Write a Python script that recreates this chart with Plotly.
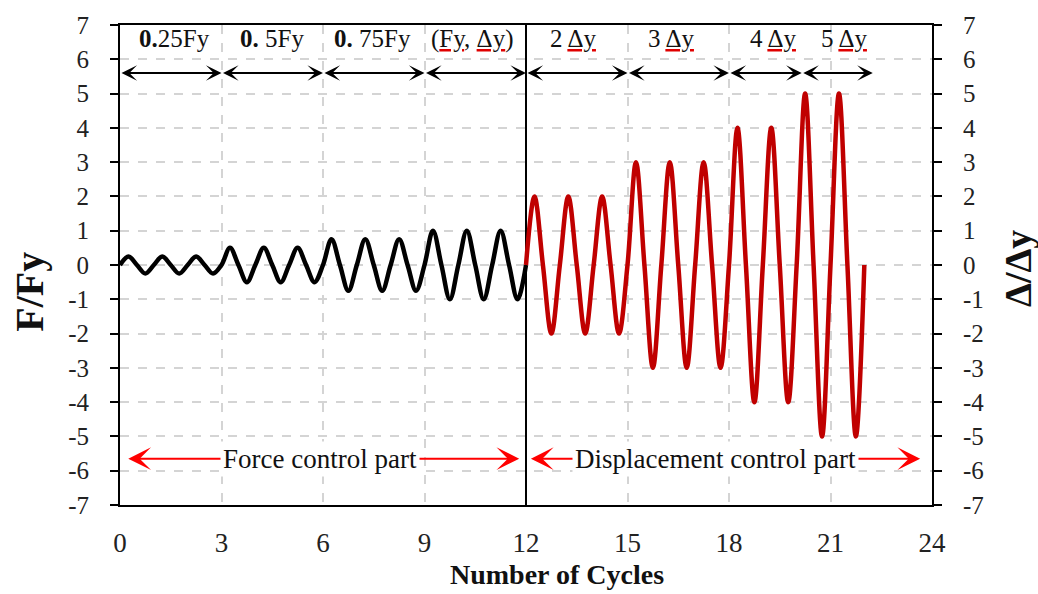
import plotly.graph_objects as go

# Peak ratio of every loading cycle (one cycle per unit on the x axis)
force_cycle_peaks = [0.25, 0.25, 0.25, 0.5, 0.5, 0.5, 0.75, 0.75, 0.75, 1.0, 1.0, 1.0]
disp_cycle_peaks = [2, 2, 2, 3, 3, 3, 4, 4, 5, 5]
force_start = 0
disp_start = 12

x_ticks = [0, 3, 6, 9, 12, 15, 18, 21, 24]
y_ticks = list(range(-7, 8))
y_tick_text = ["-7", "-6", "-5", "-4", "-3", "-2", "-1", "0", "1", "2", "3", "4", "5", "6", "7"]

# Loading stages shown along the top of the chart
stage_bounds = [0, 3, 6, 9, 12, 15, 18, 20.15, 22.25]
stage_label_x = [1.6, 4.5, 7.45, 10.43, 13.4, 16.3, 19.3, 21.4]


def red_underline(s):
    # underline painted in red while the glyphs stay dark
    return ('<span style="text-decoration:underline;fill:#e00000">'
            '<span style="fill:#111111">' + s + '</span></span>')


stage_labels = [
    "<b>0.</b>25Fy",
    "<b>0.</b> 5Fy",
    "<b>0.</b> 75Fy",
    "(" + red_underline("Fy") + ", " + red_underline("Δy") + ")",
    "2 " + red_underline("Δy"),
    "3 " + red_underline("Δy"),
    "4 " + red_underline("Δy"),
    "5 " + red_underline("Δy"),
]
stage_arrow_y = 5.6
stage_label_y = 6.6

# Control-mode spans along the bottom
parts = ["Force control part", "Displacement control part"]
part_spans = [(0.2, 11.8), (12.1, 23.65)]
part_label_x = [5.9, 17.6]
part_y = -5.65


def cycle_points(start, peaks):
    xs, ys = [start], [0.0]
    for i, a in enumerate(peaks):
        x0 = start + i
        xs += [x0 + 0.25, x0 + 0.5, x0 + 0.75, x0 + 1]
        ys += [a, 0.0, -a, 0.0]
    return xs, ys


fx, fy = cycle_points(force_start, force_cycle_peaks)
dx, dy = cycle_points(disp_start, disp_cycle_peaks)

SERIF = "Liberation Serif, DejaVu Serif, serif"
INK = "#111111"

fig = go.Figure()
fig.add_trace(go.Scatter(x=fx, y=fy, mode="lines",
                         line=dict(color="#000000", width=4.5, shape="spline", smoothing=1),
                         showlegend=False, yaxis="y"))
fig.add_trace(go.Scatter(x=dx, y=dy, mode="lines",
                         line=dict(color="#c00000", width=4.5, shape="spline", smoothing=1),
                         showlegend=False, yaxis="y2"))

annotations = []
# black double arrows for each stage
for a, b in zip(stage_bounds[:-1], stage_bounds[1:]):
    annotations.append(dict(x=b, y=stage_arrow_y, ax=a, ay=stage_arrow_y,
                            xref="x", yref="y", axref="x", ayref="y", text="",
                            showarrow=True, arrowside="end+start",
                            arrowhead=3, startarrowhead=3, arrowsize=1.3, startarrowsize=1.3,
                            arrowwidth=2, arrowcolor="#000000", standoff=0, startstandoff=0))
for xl, txt in zip(stage_label_x, stage_labels):
    annotations.append(dict(x=xl, y=stage_label_y, xref="x", yref="y", text=txt,
                            showarrow=False, font=dict(family=SERIF, size=25, color=INK)))
# red double arrows for the control parts
for (a, b) in part_spans:
    annotations.append(dict(x=b, y=part_y, ax=a, ay=part_y,
                            xref="x", yref="y", axref="x", ayref="y", text="",
                            showarrow=True, arrowside="end+start",
                            arrowhead=3, startarrowhead=3, arrowsize=1.9, startarrowsize=1.9,
                            arrowwidth=2, arrowcolor="#ff0000", standoff=0, startstandoff=0))
for xl, txt in zip(part_label_x, parts):
    annotations.append(dict(x=xl, y=part_y, xref="x", yref="y", text=txt,
                            showarrow=False, bgcolor="#ffffff", borderpad=2,
                            font=dict(family=SERIF, size=27, color=INK)))

# axis titles
annotations += [
    dict(text="<b>Number of Cycles</b>", xref="paper", yref="paper", x=0.538, y=-0.144,
         xanchor="center", yanchor="middle", showarrow=False,
         font=dict(family=SERIF, size=28, color=INK)),
    dict(text="<b>F/Fy</b>", xref="paper", yref="paper", x=-0.111, y=0.444,
         xanchor="center", yanchor="middle", textangle=-90, showarrow=False,
         font=dict(family=SERIF, size=40, color=INK)),
    dict(text="<b>Δ/Δy</b>", xref="paper", yref="paper", x=1.106, y=0.492,
         xanchor="center", yanchor="middle", textangle=-90, showarrow=False,
         font=dict(family=SERIF, size=38, color=INK)),
]

fig.update_layout(
    width=1038, height=594,
    margin=dict(l=120, r=106, t=19, b=89),
    paper_bgcolor="#ffffff", plot_bgcolor="#ffffff",
    font=dict(family=SERIF, size=25, color="#222222"),
    xaxis=dict(range=[0, 24], tickvals=x_ticks, ticks="", showline=True, mirror=True,
               linecolor="#000000", linewidth=2,
               showgrid=True, gridcolor="#d4d4d4", griddash="dash", gridwidth=1.5,
               zeroline=False, ticklabelstandoff=13,
               tickfont=dict(family=SERIF, size=27, color="#222222")),
    yaxis=dict(range=[-7, 7], tickvals=y_ticks, ticktext=y_tick_text,
               ticks="outside", ticklen=8, tickwidth=2,
               tickcolor="#000000", showline=True, linecolor="#000000", linewidth=2,
               showgrid=True, gridcolor="#d4d4d4", griddash="dash", gridwidth=1.5,
               zeroline=False, ticklabelstandoff=16,
               tickfont=dict(family=SERIF, size=25, color="#222222")),
    yaxis2=dict(range=[-7, 7], tickvals=y_ticks, ticktext=y_tick_text,
                overlaying="y", side="right",
                ticks="outside", ticklen=8, tickwidth=2, tickcolor="#000000",
                showline=True, linecolor="#000000", linewidth=2, showgrid=False,
                zeroline=False, ticklabelstandoff=16,
                tickfont=dict(family=SERIF, size=25, color="#222222")),
    shapes=[dict(type="line", xref="x", yref="y", x0=12, x1=12, y0=-7, y1=7,
                 line=dict(color="#000000", width=2), layer="between")],
    annotations=annotations,
)

fig.write_html("out.html")
